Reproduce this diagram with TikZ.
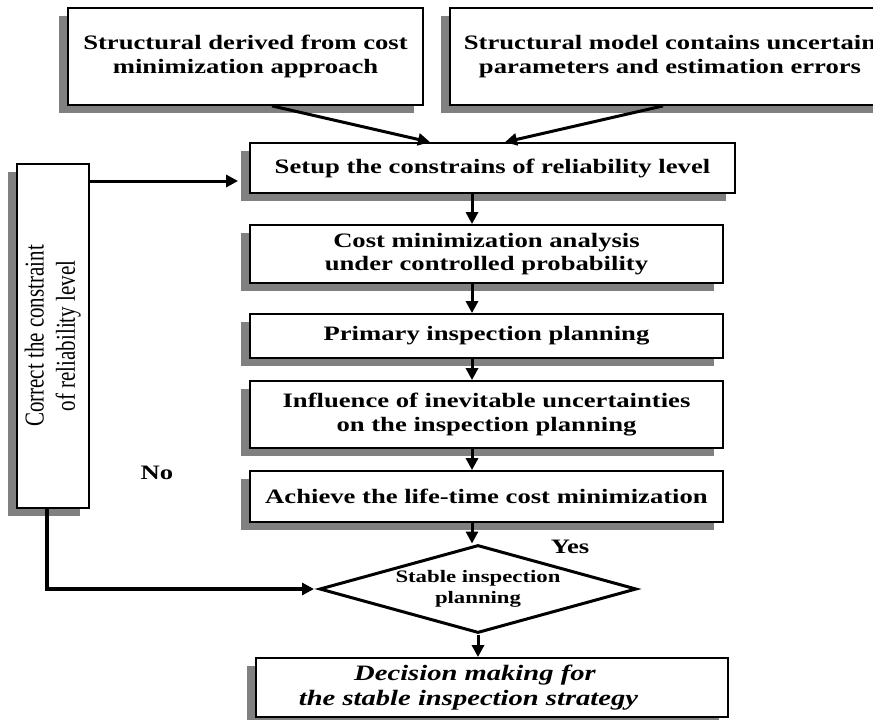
\documentclass[tikz,border=0pt]{standalone}
\usepackage{fontspec}
\setmainfont{Liberation Serif}[FakeStretch=1.3]
\newfontfamily\plainserif{Liberation Serif}
\usetikzlibrary{
  arrows.meta,
  shapes.geometric,
  shadows
}

\tikzset{
  stepbox/.style={draw, line width=1.8pt, fill=white, inner sep=0pt, align=center,
    font=\fontsize{20.5}{23.5}\selectfont\bfseries,
    drop shadow={shadow xshift=-9.5pt, shadow yshift=-8pt, fill=black!50, opacity=1}},
  arr/.style={line width=3pt, -{Triangle[length=12pt,width=12pt]}},
  answer/.style={font=\fontsize{20.5}{23.5}\selectfont\bfseries}
}

\begin{document}
\begin{tikzpicture}[x=1pt,y=-1pt]
    %frame
    \clip (0,0) rectangle (873,720);
    \fill[white] (0,0) rectangle (873,720);
    %inputs
    \node[stepbox, minimum width=355pt, minimum height=97pt] (struct) at (245.5,56.5)
      {Structural derived from cost\\minimization approach};
    \node[stepbox, minimum width=440pt, minimum height=97pt] (model) at (670,56.5)
      {Structural model contains uncertain\\parameters and estimation errors};
    %main column
    \node[stepbox, minimum width=485pt, minimum height=50pt] (setup) at (492.5,168)
      {Setup the constrains of reliability level};
    \node[stepbox, minimum width=473pt, minimum height=58pt] (cost) at (486.5,254)
      {Cost minimization analysis\\under controlled probability};
    \node[stepbox, minimum width=473pt, minimum height=44pt] (primary) at (486.5,336)
      {Primary inspection planning};
    \node[stepbox, minimum width=473pt, minimum height=67pt] (influence) at (486.5,414.5)
      {Influence of inevitable uncertainties\\on the inspection planning};
    \node[stepbox, minimum width=473pt, minimum height=51pt] (achieve) at (486.5,496.5)
      {Achieve the life-time cost minimization};
    \node[draw, diamond, aspect=3.6, line width=3pt, minimum width=317pt, minimum height=88pt,
      inner sep=0pt, align=center, font=\fontsize{17.5}{21}\selectfont\bfseries] (stable) at (478,589)
      {Stable inspection\\planning};
    \node[stepbox, minimum width=472pt, minimum height=59pt,
      font=\fontsize{22}{25}\selectfont\bfseries\itshape] (decision) at (492,687.5)
      {Decision making for\hspace*{34pt}\\the stable inspection strategy\hspace*{47pt}};
    %feedback
    \node[stepbox, rotate=90, minimum width=344pt, minimum height=72pt,
      font=\fontsize{21}{24}\plainserif] (correct) at (53,336)
      {\scalebox{1}[1.3]{\begin{tabular}{@{}c@{}}Correct the constraint\\of reliability level\end{tabular}}};
    \node[answer] (no) at (157,473) {No};
    \node[answer] (yes) at (570,547) {Yes};
    %connectors
    \coordinate (spine) at (472,0);
    \draw[arr] ([xshift=26.5pt]struct.south) -- ([xshift=-62.5pt]setup.north);
    \draw[arr] ([xshift=-7pt]model.south) -- ([xshift=12.5pt]setup.north);
    \draw[arr, shorten >=11pt] ([yshift=-13pt]setup.west -| correct.south) -- ([yshift=-13pt]setup.west);
    \draw[arr] (setup.south -| spine) -- (cost.north -| spine);
    \draw[arr] (cost.south -| spine) -- (primary.north -| spine);
    \draw[arr] (primary.south -| spine) -- (influence.north -| spine);
    \draw[arr] (influence.south -| spine) -- (achieve.north -| spine);
    \draw[arr] (achieve.south -| spine) -- (stable.north -| spine);
    \draw[arr] (stable.south) -- (decision.north -| stable.south);
    \draw[arr, line width=3.5pt, shorten >=4pt] ([xshift=-6pt]correct.west) |- (stable.west);
\end{tikzpicture}
\end{document}
